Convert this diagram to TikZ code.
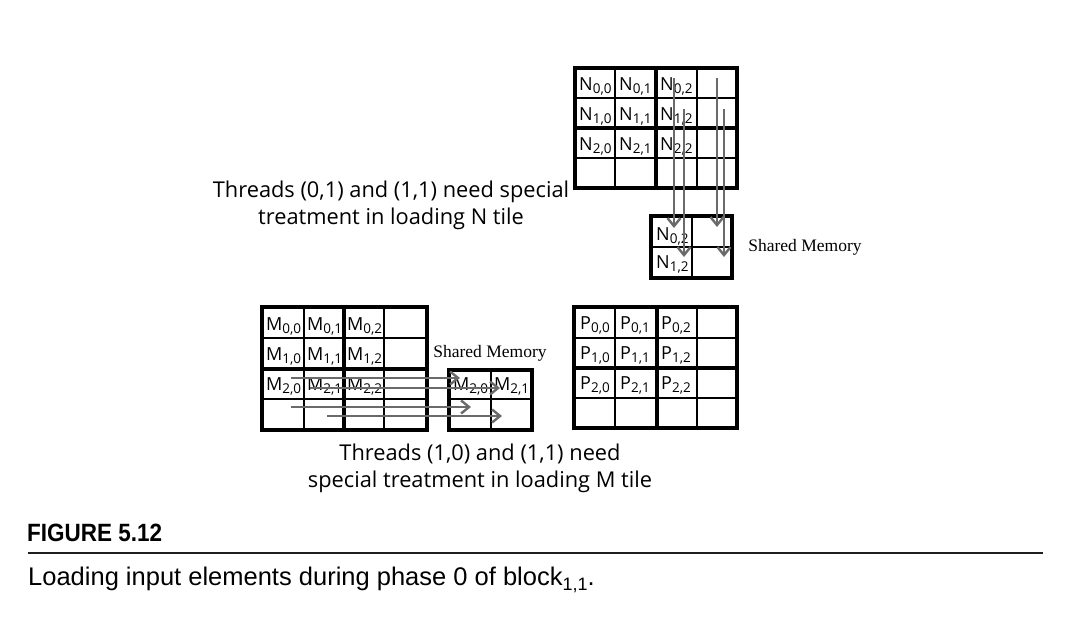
\documentclass[tikz,border=0pt]{standalone}
\usepackage{fontspec}
\setmainfont{Open Sans}
\newfontfamily\memfont{Liberation Serif}
\newfontfamily\capfont{Liberation Sans}
\usepackage{tikz}
\usetikzlibrary{arrows.meta}
\definecolor{threadgray}{HTML}{6A6A6A}
\definecolor{rulegray}{HTML}{1E1E1E}
\newcommand{\elem}[2]{#1\raisebox{-0.35ex}{\fontsize{13.5}{13.5}\selectfont #2}}

\begin{document}
\begin{tikzpicture}[
		x=1pt,y=-1pt,
		line cap=rect,
		tileline/.style={line width=3.2pt},
		cellline/.style={line width=1.3pt},
		elem/.style={anchor=base west, inner sep=0pt, font=\fontsize{18}{18}\selectfont},
		thread/.style={-{Straight Barb[length=8pt,width=13pt,line width=2.4pt]}, draw=threadgray, line width=2.8pt, line cap=butt},
		note/.style={align=center, font=\fontsize{21.8}{27}\selectfont},
		memlabel/.style={font=\memfont\fontsize{17.5}{17.5}\selectfont},
		figlabel/.style={anchor=base west, inner sep=0pt, font=\capfont\bfseries\fontsize{25}{25}\selectfont},
		caption/.style={anchor=base west, inner sep=0pt, font=\capfont\fontsize{25.5}{25.5}\selectfont}
	]
	\useasboundingbox (0,0) rectangle (1078,634);
	
	% N tile
	\draw[cellline] (615,68) -- (615,188) (697,68) -- (697,188) (575,98) -- (737,98) (575,158) -- (737,158);
	\draw[tileline] (656,68) -- (656,188) (575,128) -- (737,128);
	\draw[tileline] (575,68) rectangle (737,188);
	\node[elem] (n00) at (579,90) {\elem{N}{0,0}};
	\node[elem] (n01) at (619,90) {\elem{N}{0,1}};
	\node[elem] (n02) at (660,90) {\elem{N}{0,2}};
	\node[elem] (n10) at (579,120) {\elem{N}{1,0}};
	\node[elem] (n11) at (619,120) {\elem{N}{1,1}};
	\node[elem] (n12) at (660,120) {\elem{N}{1,2}};
	\node[elem] (n20) at (579,150) {\elem{N}{2,0}};
	\node[elem] (n21) at (619,150) {\elem{N}{2,1}};
	\node[elem] (n22) at (660,150) {\elem{N}{2,2}};
	
	% N shared memory
	\draw[cellline] (692,216) -- (692,278) (651,247) -- (732,247);
	\draw[tileline] (651,216) rectangle (732,278);
	\node[elem] (sn02) at (656,240) {\elem{N}{0,2}};
	\node[elem] (sn12) at (656,268) {\elem{N}{1,2}};
	\node[memlabel] (nshared) at (805,247) {Shared Memory};
	
	% N threads
	\coordinate (na) at (674,78);  \coordinate (naend) at (674,228);
	\coordinate (nb) at (684,109); \coordinate (nbend) at (684,257);
	\coordinate (nc) at (717,78);  \coordinate (ncend) at (717,227);
	\coordinate (nd) at (724,109); \coordinate (ndend) at (724,257);
	\draw[thread] (na) -- (naend);
	\draw[thread] (nb) -- (nbend);
	\draw[thread] (nc) -- (ncend);
	\draw[thread] (nd) -- (ndend);
	\node[note] (nnote) at (391,205) {Threads (0,1) and (1,1) need special\\treatment in loading N tile};
	
	% M tile
	\draw[cellline] (304,307) -- (304,430) (384,307) -- (384,430) (262,338) -- (427,338) (262,399) -- (427,399);
	\draw[tileline] (344,307) -- (344,430) (262,369) -- (427,369);
	\draw[tileline] (262,307) rectangle (427,430);
	\node[elem] (m00) at (266,330) {\elem{M}{0,0}};
	\node[elem] (m01) at (307,330) {\elem{M}{0,1}};
	\node[elem] (m02) at (347,330) {\elem{M}{0,2}};
	\node[elem] (m10) at (266,360) {\elem{M}{1,0}};
	\node[elem] (m11) at (307,360) {\elem{M}{1,1}};
	\node[elem] (m12) at (347,360) {\elem{M}{1,2}};
	\node[elem] (m20) at (266,390) {\elem{M}{2,0}};
	\node[elem] (m21) at (307,390) {\elem{M}{2,1}};
	\node[elem] (m22) at (347,390) {\elem{M}{2,2}};
	
	% M shared memory
	\draw[cellline] (491,370) -- (491,430) (449,399) -- (532,399);
	\draw[tileline] (449,370) rectangle (532,430);
	\node[elem] (sm20) at (453,390) {\elem{M}{2,0}};
	\node[elem] (sm21) at (494,390) {\elem{M}{2,1}};
	\node[memlabel] (mshared) at (490,353) {Shared Memory};
	
	% M threads
	\coordinate (ma) at (291,378); \coordinate (maend) at (460,378);
	\coordinate (mb) at (310,388); \coordinate (mbend) at (500,388);
	\coordinate (mc) at (291,407); \coordinate (mcend) at (471,407);
	\coordinate (md) at (327,416); \coordinate (mdend) at (502,416);
	\draw[thread] (ma) -- (maend);
	\draw[thread] (mb) -- (mbend);
	\draw[thread] (mc) -- (mcend);
	\draw[thread] (md) -- (mdend);
	\node[note] (mnote) at (480,468) {Threads (1,0) and (1,1) need\\special treatment in loading M tile};
	
	% P tile
	\draw[cellline] (615,307) -- (615,428) (697,307) -- (697,428) (574,338) -- (737,338) (574,398) -- (737,398);
	\draw[tileline] (657,307) -- (657,428) (574,368) -- (737,368);
	\draw[tileline] (574,307) rectangle (737,428);
	\node[elem] (p00) at (580,329) {\elem{P}{0,0}};
	\node[elem] (p01) at (620,329) {\elem{P}{0,1}};
	\node[elem] (p02) at (661,329) {\elem{P}{0,2}};
	\node[elem] (p10) at (580,359) {\elem{P}{1,0}};
	\node[elem] (p11) at (620,359) {\elem{P}{1,1}};
	\node[elem] (p12) at (661,359) {\elem{P}{1,2}};
	\node[elem] (p20) at (580,389) {\elem{P}{2,0}};
	\node[elem] (p21) at (620,389) {\elem{P}{2,1}};
	\node[elem] (p22) at (661,389) {\elem{P}{2,2}};
	
	% Caption
	\node[figlabel] (fignum) at (27,541) {\scalebox{0.9}[1]{FIGURE 5.12}};
	\draw[line width=1.8pt, draw=rulegray, line cap=butt] (28,553) -- (1043,553);
	\node[caption] (figtext) at (28,585) {Loading input elements during phase 0 of block\raisebox{-0.4ex}{\fontsize{18}{18}\selectfont 1,1}.};
	
\end{tikzpicture}
\end{document}
